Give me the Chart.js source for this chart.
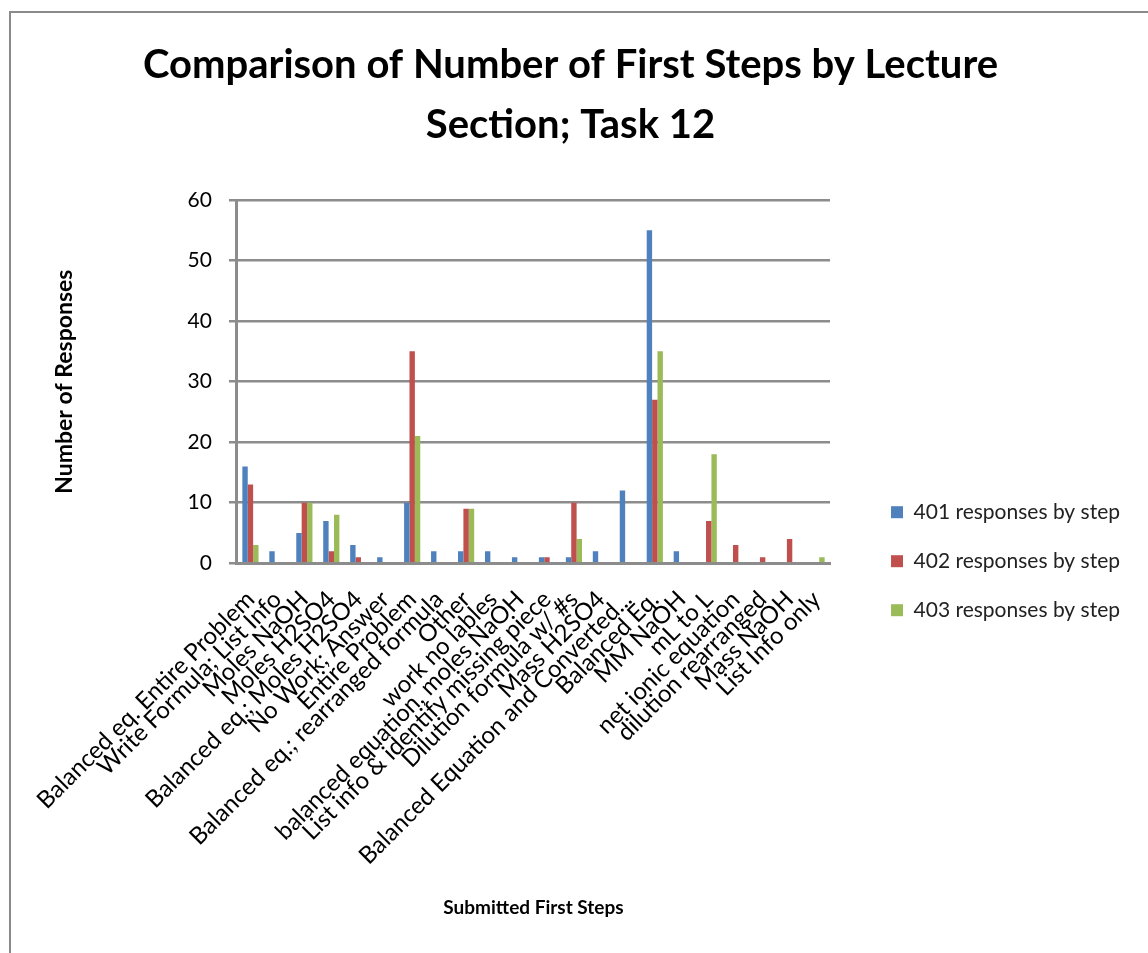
<!DOCTYPE html>
<html>
<head>
<meta charset="utf-8">
<script src="https://cdn.jsdelivr.net/npm/chart.js@4/dist/chart.umd.min.js"></script>
<style>
  body { margin: 0; background: #fff; overflow: hidden; }
  #frame {
    position: absolute; left: 9px; top: 11px;
    width: 1137px; height: 942px;
    border-left: 2px solid #8a8a8a; border-top: 2px solid #8a8a8a;
  }
</style>
</head>
<body>
<div id="frame"><canvas id="stepsChart"></canvas></div>
<script>
const steps = [
    'Balanced eq. Entire Problem', 'Write Formula; List Info', 'Moles NaOH', 'Moles H2SO4',
    'Balanced eq.; Moles H2SO4', 'No Work; Answer', 'Entire Problem',
    'Balanced eq.; rearranged formula', 'Other', 'work no lables',
    'balanced equation, moles NaOH', 'List info & identify missing piece',
    'Dilution formula w/ #s', 'Mass H2SO4', 'Balanced Equation and Converted...',
    'Balanced Eq.', 'MM NaOH', 'mL to L', 'net ionic equation',
    'dilution rearranged', 'Mass NaOH', 'List Info only'
];
const section401 = [16, 2, 5, 7, 3, 1, 10, 2, 2, 2, 1, 1, 1, 2, 12, 55, 2, 0, 0, 0, 0, 0];
const section402 = [13, 0, 10, 2, 1, 0, 35, 0, 9, 0, 0, 1, 10, 0, 0, 27, 0, 7, 3, 1, 4, 0];
const section403 = [3, 0, 10, 8, 0, 0, 21, 0, 9, 0, 0, 0, 4, 0, 0, 35, 0, 18, 0, 0, 0, 1];
const seriesNames = ['401 responses by step', '402 responses by step', '403 responses by step'];
const seriesColors = ['#4f81bd', '#c0504d', '#9bbb59'];
const yTicks = [0, 10, 20, 30, 40, 50, 60];

const FONT = 'Lato, "Open Sans", sans-serif';
const gridGray = '#8c8c8c';

function makeDataset(i, values) {
    return {
        label: seriesNames[i],
        data: values,
        backgroundColor: seriesColors[i],
        borderWidth: 0,
        categoryPercentage: 0.6,
        barPercentage: 1.0
    };
}

const ctx = document.getElementById('stepsChart').getContext('2d');
const stepsChart = new Chart(ctx, {
    type: 'bar',
    data: {
        labels: steps,
        datasets: [
            makeDataset(0, section401),
            makeDataset(1, section402),
            makeDataset(2, section403)
        ]
    },
    options: {
        responsive: true,
        maintainAspectRatio: false,
        animation: false,
        layout: { padding: { left: 0, right: 18, top: 0, bottom: 0 } },
        plugins: {
            title: {
                display: true,
                text: ['Comparison of Number of First Steps by Lecture', 'Section; Task 12'],
                color: '#000',
                font: { family: FONT, size: 40, weight: 'bold', lineHeight: 1.5 },
                padding: { top: 22, bottom: 45 }
            },
            legend: {
                position: 'right',
                title: {
                    display: true,
                    text: '',
                    font: { size: 12 },
                    padding: { top: 140, bottom: 0 }
                },
                labels: {
                    color: '#222',
                    font: { family: FONT, size: 21 },
                    boxWidth: 12,
                    boxHeight: 12,
                    padding: 28
                }
            },
            tooltip: { enabled: false }
        },
        scales: {
            x: {
                grid: { display: false },
                border: { display: true, color: gridGray, width: 3 },
                ticks: {
                    autoSkip: false,
                    maxRotation: 45,
                    minRotation: 45,
                    color: '#000',
                    font: { family: FONT, size: 24 },
                    padding: 14
                },
                title: {
                    display: true,
                    text: 'Submitted First Steps',
                    color: '#000',
                    font: { family: FONT, size: 19, weight: 'bold' },
                    padding: { top: 12, bottom: 36 }
                }
            },
            y: {
                min: 0,
                max: 60,
                afterBuildTicks: (scale) => {
                    scale.ticks = yTicks.map(v => ({ value: v }));
                },
                ticks: {
                    color: '#000',
                    font: { family: FONT, size: 21 },
                    padding: 17
                },
                grid: {
                    color: gridGray,
                    lineWidth: 2.5,
                    tickLength: 8,
                    tickColor: gridGray
                },
                border: { display: true, color: gridGray, width: 3 },
                title: {
                    display: true,
                    text: 'Number of Responses',
                    color: '#000',
                    font: { family: FONT, size: 23, weight: 'bold' },
                    padding: { top: 40, bottom: 92 }
                }
            },
            gap: {
                position: 'right',
                display: false,
                afterFit: (scale) => { scale.width = 33; }
            }
        }
    }
});
</script>
</body>
</html>
